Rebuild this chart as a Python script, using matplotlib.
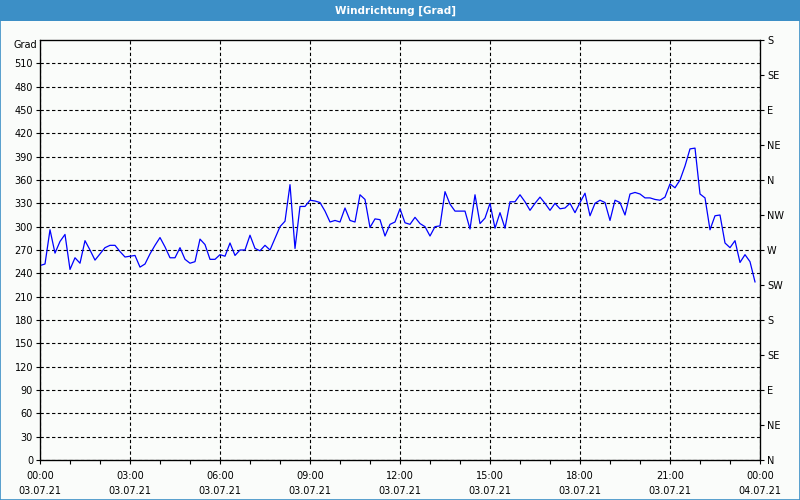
import numpy as np
import matplotlib
matplotlib.use("Agg")
import matplotlib.pyplot as plt
from matplotlib.patches import Rectangle

# wind direction in degrees, one value every 10 minutes (00:00 .. 23:50)
direction = [
    250, 252, 296, 266, 281, 290, 245, 260, 253, 282,
    270, 257, 265, 273, 276, 276, 268, 261, 262, 263,
    248, 252, 265, 276, 286, 274, 260, 260, 273, 258,
    253, 255, 284, 277, 258, 258, 264, 262, 279, 263,
    270, 270, 289, 272, 269, 276, 270, 285, 300,
    307, 354, 272, 326, 326, 334, 333, 331, 320, 306,
    308, 306, 324, 308, 306, 341, 335, 299, 310, 309,
    288, 303, 306, 323, 305, 303, 312, 304, 300, 288,
    300, 301, 345, 329, 320, 320, 320, 297, 341, 304,
    311, 330, 298, 318, 298, 332, 332,
    341, 332, 321, 330, 338, 330, 321, 330, 323, 324,
    330, 318, 331, 343, 314, 330, 334, 331, 308, 334,
    331, 315, 342, 344, 342, 337, 337, 335, 334, 338,
    355, 350, 360, 378, 400, 401, 342, 337, 296, 314,
    315, 279, 273, 282, 254, 264, 255, 229,
]
hours = np.arange(len(direction)) / 6.0

x_ticks = [0, 3, 6, 9, 12, 15, 18, 21, 24]
x_labels = ["00:00\n03.07.21", "03:00\n03.07.21", "06:00\n03.07.21",
            "09:00\n03.07.21", "12:00\n03.07.21", "15:00\n03.07.21",
            "18:00\n03.07.21", "21:00\n03.07.21", "00:00\n04.07.21"]
y_ticks = list(range(0, 511, 30))
compass_ticks = list(range(0, 541, 45))
compass_labels = ["N", "NE", "E", "SE", "S", "SW", "W", "NW",
                  "N", "NE", "E", "SE", "S"]

bar_blue = "#3c8fc6"
fs = 7

fig = plt.figure(figsize=(8, 5), dpi=100)
fig.patch.set_facecolor("#fafcfa")

# title bar and blue frame
fig.patches.append(Rectangle((0, 0.958), 1, 0.042, transform=fig.transFigure,
                             facecolor=bar_blue, edgecolor="none", zorder=0))
fig.patches.append(Rectangle((0.0006, 0.001), 0.9988, 0.998, transform=fig.transFigure,
                             facecolor="none", edgecolor=bar_blue, lw=1.2, zorder=5))
fig.text(0.494, 0.979, "Windrichtung [Grad]", color="white", ha="center",
         va="center", fontsize=7.5, fontweight="bold")

ax = fig.add_axes([0.05, 0.08, 0.90, 0.84])
ax.set_facecolor("#fafcfa")
ax.plot(hours, direction, color="#0000ff", lw=0.9, zorder=3)

ax.set_xlim(0, 24)
ax.set_ylim(0, 540)
ax.set_yticks(y_ticks)
ax.set_xticks(x_ticks)
ax.set_xticklabels(x_labels, linespacing=1.6)
ax.set_xticks(np.arange(0, 25, 1), minor=True)
ax.tick_params(axis="both", which="both", direction="out", length=3,
               width=0.8, labelsize=fs, pad=2)
ax.tick_params(axis="x", pad=5)
ax.grid(True, which="major", color="black", lw=0.8, linestyle=(0, (3, 2.2)))
for s in ax.spines.values():
    s.set_linewidth(0.9)

ax.text(-0.004, 0.988, "Grad", transform=ax.transAxes, ha="right",
        va="center", fontsize=fs)

ax2 = ax.twinx()
ax2.set_ylim(0, 540)
ax2.set_yticks(compass_ticks)
ax2.set_yticklabels(compass_labels)
ax2.tick_params(axis="y", direction="out", length=3, width=0.8,
                labelsize=fs, pad=2)

fig.savefig("out.png", dpi=100, facecolor=fig.get_facecolor())
